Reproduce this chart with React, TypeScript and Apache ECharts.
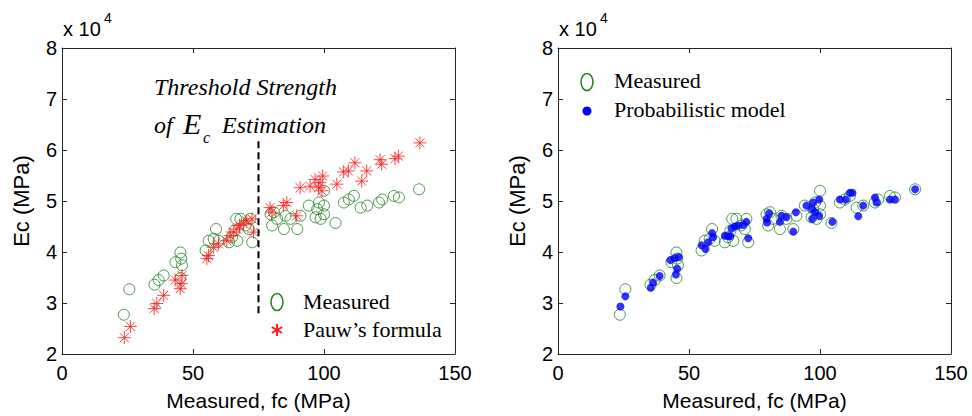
import React, { useEffect, useRef } from "react";
import * as echarts from "echarts";

// Measured data (shared by both panels): fc (MPa), Ec (MPa)
const measuredFc = [23.6, 25.7, 35.3, 36.9, 38.8, 43.3, 45.2, 45.5, 45.8, 45.2, 54.8, 56.0, 57.9, 58.8, 59.8, 63.7, 64.9, 65.8, 66.5, 66.9, 68.1, 70.0, 71.9, 72.6, 71.3, 79.6, 80.2, 80.9, 82.1, 84.7, 85.3, 87.2, 89.8, 91.0, 94.2, 96.8, 97.4, 98.1, 98.7, 100.0, 100.0, 100.0, 104.4, 107.6, 109.5, 111.4, 114.0, 116.5, 121.0, 122.2, 126.7, 128.6, 136.3];
const measuredEc = [27700, 32700, 33600, 34500, 35400, 38000, 39900, 38700, 37400, 34900, 40300, 42200, 42600, 44500, 42200, 41900, 42900, 44200, 46500, 42200, 46500, 45200, 46500, 41900, 44500, 47400, 45200, 47800, 46500, 44500, 47100, 46500, 44500, 47100, 49100, 46800, 48400, 49700, 46500, 52000, 49100, 47400, 45700, 49700, 50300, 51000, 48700, 49100, 49700, 50300, 51000, 50700, 52300];

// Pauw's formula estimates
const pauwFc = [23.8, 26.1, 35.2, 36.2, 38.8, 43.2, 45.1, 45.5, 45.8, 55.3, 55.9, 57.8, 59.7, 62.9, 64.2, 65.5, 66.7, 67.8, 69.3, 70.5, 72.5, 73.1, 79.4, 80.1, 84.5, 85.8, 89.6, 90.9, 94.7, 96.6, 97.9, 98.5, 99.5, 99.2, 104.9, 107.4, 109.3, 111.8, 114.4, 116.3, 121.4, 122.0, 127.1, 128.4, 136.6];
const pauwEc = [23200, 25400, 28900, 29900, 31500, 34500, 32800, 33800, 35400, 38700, 39300, 40900, 41600, 42200, 43200, 43900, 44500, 45200, 45500, 46100, 46500, 43900, 48700, 47800, 49100, 49700, 47100, 52600, 52900, 54200, 52600, 53600, 54900, 52000, 53300, 55700, 55900, 57500, 53900, 55900, 58100, 57200, 58300, 58800, 61400];

// Probabilistic model estimates
const probFc = [23.8, 25.7, 35.4, 36.3, 38.8, 42.9, 44.6, 46.1, 45.5, 45.0, 54.8, 56.3, 57.3, 58.8, 59.2, 63.7, 64.9, 65.8, 66.2, 67.5, 68.8, 70.7, 71.9, 72.6, 79.6, 79.8, 80.6, 84.7, 85.3, 87.2, 89.8, 90.8, 94.8, 97.0, 97.4, 97.0, 98.1, 99.7, 99.7, 104.7, 107.6, 109.8, 111.4, 112.4, 114.6, 116.5, 121.0, 121.6, 126.7, 128.6, 136.3];
const probEc = [29300, 31300, 33000, 34000, 35300, 38400, 38800, 39000, 36700, 35600, 41300, 40600, 41900, 43700, 42900, 43200, 43100, 43100, 44600, 45000, 45200, 45300, 45900, 42700, 46500, 45800, 47600, 45900, 47100, 46800, 44000, 47800, 49100, 48400, 49700, 46500, 47800, 50300, 47100, 45900, 50300, 50300, 51600, 51600, 47000, 49100, 50700, 49700, 50300, 50300, 52300];

// Threshold strength line
const thresholdFc = 75;
const thresholdEcRange = [28000, 62000];

const xTicks = { min: 0, max: 150, interval: 50 };
const yTicks = { min: 20000, max: 80000, interval: 10000 };

const GREEN = "#1f7f1f";
const RED = "#ff1a1a";
const BLUE = "#0000ff";
const AXIS = "#262626";
const SANS = "'Liberation Sans', Arial, sans-serif";
const SERIF = "'Liberation Serif', 'Times New Roman', serif";

const zip = (a: number[], b: number[]) => a.map((v, i) => [v, b[i]]);

const STAR = "path://M0,-10L0,10M-10,0L10,0M-7,-7L7,7M-7,7L7,-7";

function xAxesFor(gridIndex: number) {
  const lineStyle = { color: AXIS, width: 1 };
  return [
    {
      type: "value", gridIndex, ...xTicks, position: "bottom",
      axisLine: { show: true, onZero: false, lineStyle },
      axisTick: { show: true, inside: true, length: 5, lineStyle },
      axisLabel: { color: "#000", fontSize: 20, fontFamily: SANS, margin: 9 },
      splitLine: { show: false },
      name: "Measured, fc (MPa)", nameLocation: "middle", nameGap: 36,
      nameTextStyle: { color: "#000", fontSize: 21, fontFamily: SANS },
    },
    {
      type: "value", gridIndex, ...xTicks, position: "top",
      axisLine: { show: true, onZero: false, lineStyle },
      axisTick: { show: true, inside: true, length: 5, lineStyle },
      axisLabel: { show: false }, splitLine: { show: false },
    },
  ];
}

function yAxesFor(gridIndex: number) {
  const lineStyle = { color: AXIS, width: 1 };
  return [
    {
      type: "value", gridIndex, ...yTicks, position: "left",
      axisLine: { show: true, onZero: false, lineStyle },
      axisTick: { show: true, inside: true, length: 5, lineStyle },
      axisLabel: { color: "#000", fontSize: 20, fontFamily: SANS, margin: 5, formatter: (v: number) => String(v / 10000) },
      splitLine: { show: false },
      name: "Ec (MPa)", nameLocation: "middle", nameGap: 30, nameRotate: 90,
      nameTextStyle: { color: "#000", fontSize: 22, fontFamily: SANS },
    },
    {
      type: "value", gridIndex, ...yTicks, position: "right",
      axisLine: { show: true, onZero: false, lineStyle },
      axisTick: { show: true, inside: true, length: 5, lineStyle },
      axisLabel: { show: false }, splitLine: { show: false },
    },
  ];
}

function asterisk(cx: number, cy: number, r: number) {
  const angles = [90, 30, 150];
  return angles.map((a) => {
    const rad = (a * Math.PI) / 180;
    const dx = Math.cos(rad) * r;
    const dy = Math.sin(rad) * r;
    return {
      type: "line",
      shape: { x1: cx - dx, y1: cy - dy, x2: cx + dx, y2: cy + dy },
      style: { stroke: RED, lineWidth: 2 },
    };
  });
}

export default function App() {
  const ref = useRef<HTMLDivElement>(null);

  useEffect(() => {
    if (!ref.current) return;
    const chart = echarts.init(ref.current, undefined, { renderer: "svg" });
    const circleStyle = { color: "rgba(0,0,0,0)", borderColor: GREEN, borderWidth: 1 };

    chart.setOption({
      animation: false,
      backgroundColor: "#fff",
      grid: [
        { left: 62, top: 48, width: 393, height: 308 },
        { left: 558, top: 48, width: 393, height: 308 },
      ],
      xAxis: [...xAxesFor(0), ...xAxesFor(1)],
      yAxis: [...yAxesFor(0), ...yAxesFor(1)],
      series: [
        {
          type: "scatter", xAxisIndex: 0, yAxisIndex: 0, name: "Measured",
          data: zip(measuredFc, measuredEc), symbol: "circle", symbolSize: 11,
          itemStyle: circleStyle, silent: true,
        },
        {
          type: "scatter", xAxisIndex: 0, yAxisIndex: 0, name: "Pauw's formula",
          data: zip(pauwFc, pauwEc), symbol: STAR, symbolSize: 13,
          itemStyle: { color: "rgba(0,0,0,0)", borderColor: RED, borderWidth: 1 }, silent: true,
        },
        {
          type: "line", xAxisIndex: 0, yAxisIndex: 0, name: "Threshold",
          data: thresholdEcRange.map((e) => [thresholdFc, e]), symbol: "none",
          lineStyle: { color: "#000", width: 2, type: [7, 4] }, silent: true,
        },
        {
          type: "scatter", xAxisIndex: 2, yAxisIndex: 2, name: "Measured",
          data: zip(measuredFc, measuredEc), symbol: "circle", symbolSize: 11,
          itemStyle: circleStyle, silent: true,
        },
        {
          type: "scatter", xAxisIndex: 2, yAxisIndex: 2, name: "Probabilistic model",
          data: zip(probFc, probEc), symbol: "circle", symbolSize: 8,
          itemStyle: { color: BLUE }, silent: true,
        },
      ],
      graphic: [
        // exponent labels
        { type: "text", left: 63, top: 19, style: { text: "x 10", font: `20px ${SANS}`, fill: "#000" } },
        { type: "text", left: 104, top: 11, style: { text: "4", font: `14px ${SANS}`, fill: "#000" } },
        { type: "text", left: 559, top: 19, style: { text: "x 10", font: `20px ${SANS}`, fill: "#000" } },
        { type: "text", left: 600, top: 11, style: { text: "4", font: `14px ${SANS}`, fill: "#000" } },
        // threshold annotation
        { type: "text", left: 154, top: 75, style: { text: "Threshold Strength", font: `italic 24px ${SERIF}`, fill: "#000" } },
        { type: "text", left: 154, top: 113, style: { text: "of", font: `italic 24px ${SERIF}`, fill: "#000" } },
        { type: "text", left: 183, top: 108, style: { text: "E", font: `italic 30px ${SERIF}`, fill: "#000" } },
        { type: "text", left: 203, top: 129, style: { text: "c", font: `italic 16px ${SERIF}`, fill: "#000" } },
        { type: "text", left: 222, top: 113, style: { text: "Estimation", font: `italic 24px ${SERIF}`, fill: "#000" } },
        // left legend
        { type: "ellipse", shape: { cx: 277, cy: 302, rx: 6, ry: 8.5 }, style: { fill: "none", stroke: GREEN, lineWidth: 1.5 } },
        { type: "text", left: 303, top: 290, style: { text: "Measured", font: `22px ${SERIF}`, fill: "#000" } },
        ...asterisk(277, 330, 6),
        { type: "text", left: 303, top: 318, style: { text: "Pauw\u2019s formula", font: `22px ${SERIF}`, fill: "#000" } },
        // right legend
        { type: "ellipse", shape: { cx: 587, cy: 82, rx: 6, ry: 8.5 }, style: { fill: "none", stroke: GREEN, lineWidth: 1.5 } },
        { type: "text", left: 614, top: 69, style: { text: "Measured", font: `22px ${SERIF}`, fill: "#000" } },
        { type: "circle", shape: { cx: 587, cy: 111, r: 4.5 }, style: { fill: BLUE } },
        { type: "text", left: 614, top: 98, style: { text: "Probabilistic model", font: `22px ${SERIF}`, fill: "#000" } },
      ],
    });
    return () => chart.dispose();
  }, []);

  return (
    <div
      ref={ref}
      style={{ position: "fixed", left: 0, top: 0, width: 972, height: 416, background: "#fff" }}
    />
  );
}
